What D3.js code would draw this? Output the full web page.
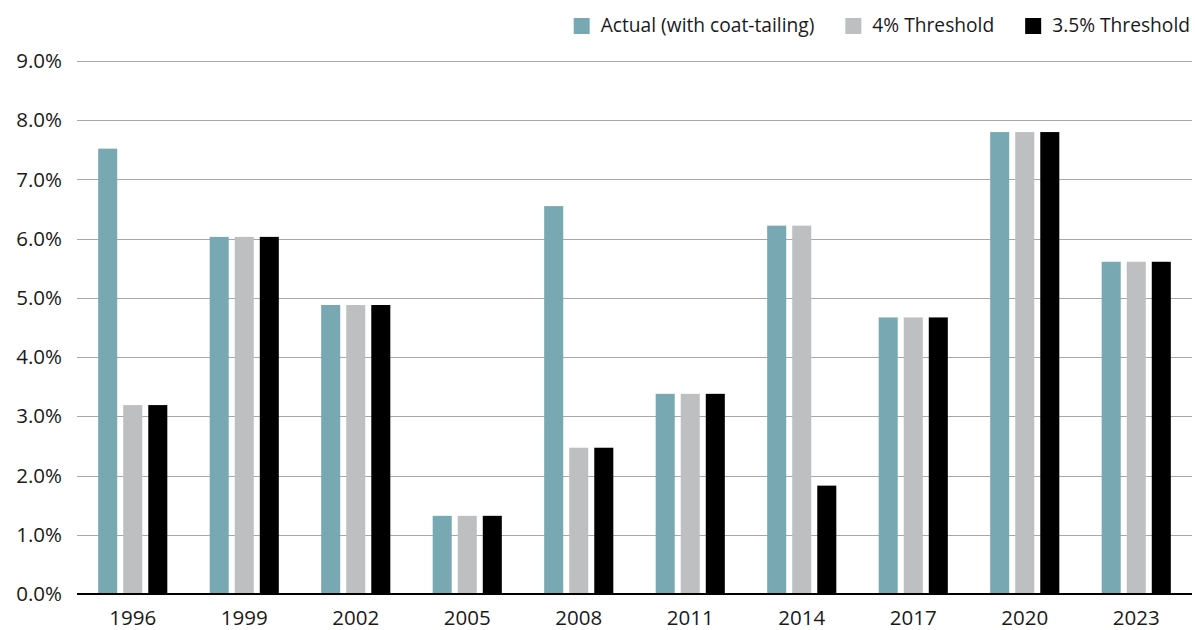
<!DOCTYPE html>
<html>
<head>
<meta charset="utf-8">
<script src="https://cdn.jsdelivr.net/npm/d3@7"></script>
<style>
  html, body { margin: 0; padding: 0; background: #fff; }
  svg { display: block; font-family: "Open Sans", sans-serif; }
</style>
</head>
<body>
<svg id="chart" width="1195" height="630"></svg>
<script>
const years = ["1996","1999","2002","2005","2008","2011","2014","2017","2020","2023"];
const seriesNames = ["Actual (with coat-tailing)", "4% Threshold", "3.5% Threshold"];
const actual      = [7.52, 6.03, 4.88, 1.32, 6.55, 3.38, 6.22, 4.67, 7.80, 5.61];
const threshold4  = [3.19, 6.03, 4.88, 1.32, 2.47, 3.38, 6.22, 4.67, 7.80, 5.61];
const threshold35 = [3.19, 6.03, 4.88, 1.32, 2.47, 3.38, 1.83, 4.67, 7.80, 5.61];
const yTicks = [0, 1, 2, 3, 4, 5, 6, 7, 8, 9];
const colors = ["#78a8b2", "#bebfc1", "#000000"];

const seriesValues = [actual, threshold4, threshold35];
const data = years.map((yr, i) => ({
  year: yr,
  values: seriesNames.map((s, k) => ({ key: s, value: seriesValues[k][i] }))
}));

const svg = d3.select("#chart");
const mLeft = 77, mRight = 1192, mTop = 61, mBottom = 594;

const x0 = d3.scaleBand().domain(years).range([mLeft, mRight]).paddingInner(0.38).paddingOuter(0.19);
const x1 = d3.scaleBand().domain(seriesNames).range([0, x0.bandwidth()]).paddingInner(0.24);
const y = d3.scaleLinear().domain([0, 9]).range([mBottom, mTop]);
const color = d3.scaleOrdinal().domain(seriesNames).range(colors);

// gridlines
svg.append("g")
  .selectAll("line")
  .data(yTicks.filter(t => t > 0))
  .join("line")
  .attr("x1", mLeft).attr("x2", mRight)
  .attr("y1", d => Math.round(y(d)) + 0.5)
  .attr("y2", d => Math.round(y(d)) + 0.5)
  .attr("stroke", "#a8a8a8")
  .attr("stroke-width", 1);

// y axis labels
const yAxis = d3.axisLeft(y).tickValues(yTicks).tickSize(0).tickPadding(0)
  .tickFormat(d => d3.format(".1f")(d) + "%");
const gy = svg.append("g").attr("transform", `translate(62,0)`).call(yAxis);
gy.select(".domain").remove();
gy.selectAll("text")
  .attr("font-family", "Open Sans, sans-serif")
  .attr("font-size", 20.5)
  .attr("fill", "#1a1a1a");

// bars
svg.append("g")
  .selectAll("g")
  .data(data)
  .join("g")
  .attr("transform", d => `translate(${x0(d.year)},0)`)
  .selectAll("rect")
  .data(d => d.values)
  .join("rect")
  .attr("x", d => x1(d.key))
  .attr("width", x1.bandwidth())
  .attr("y", d => y(d.value))
  .attr("height", d => y(0) - y(d.value))
  .attr("fill", d => color(d.key));

// x axis
const xAxis = d3.axisBottom(x0).tickSize(0).tickPadding(0);
const gx = svg.append("g").attr("transform", `translate(0,${mBottom})`).call(xAxis);
gx.select(".domain").attr("stroke", "#000").attr("stroke-width", 2)
  .attr("d", `M${mLeft},0H${mRight}`);
gx.selectAll("text")
  .attr("font-family", "Open Sans, sans-serif")
  .attr("font-size", 20.5)
  .attr("fill", "#1a1a1a")
  .attr("dy", null)
  .attr("y", 31);

// legend (right aligned at x=1190)
const legend = svg.append("g");
let cursor = 1190;
for (let i = seriesNames.length - 1; i >= 0; i--) {
  const name = seriesNames[i];
  const t = legend.append("text")
    .attr("y", 32)
    .attr("font-family", "Open Sans, sans-serif")
    .attr("font-size", 19.2)
    .attr("fill", "#1a1a1a")
    .text(name);
  const w = t.node().getComputedTextLength();
  t.attr("x", cursor - w);
  legend.append("rect")
    .attr("x", cursor - w - 11 - 16)
    .attr("y", 18)
    .attr("width", 16).attr("height", 16)
    .attr("fill", color(name));
  cursor = cursor - w - 11 - 16 - 31;
}
</script>
</body>
</html>
